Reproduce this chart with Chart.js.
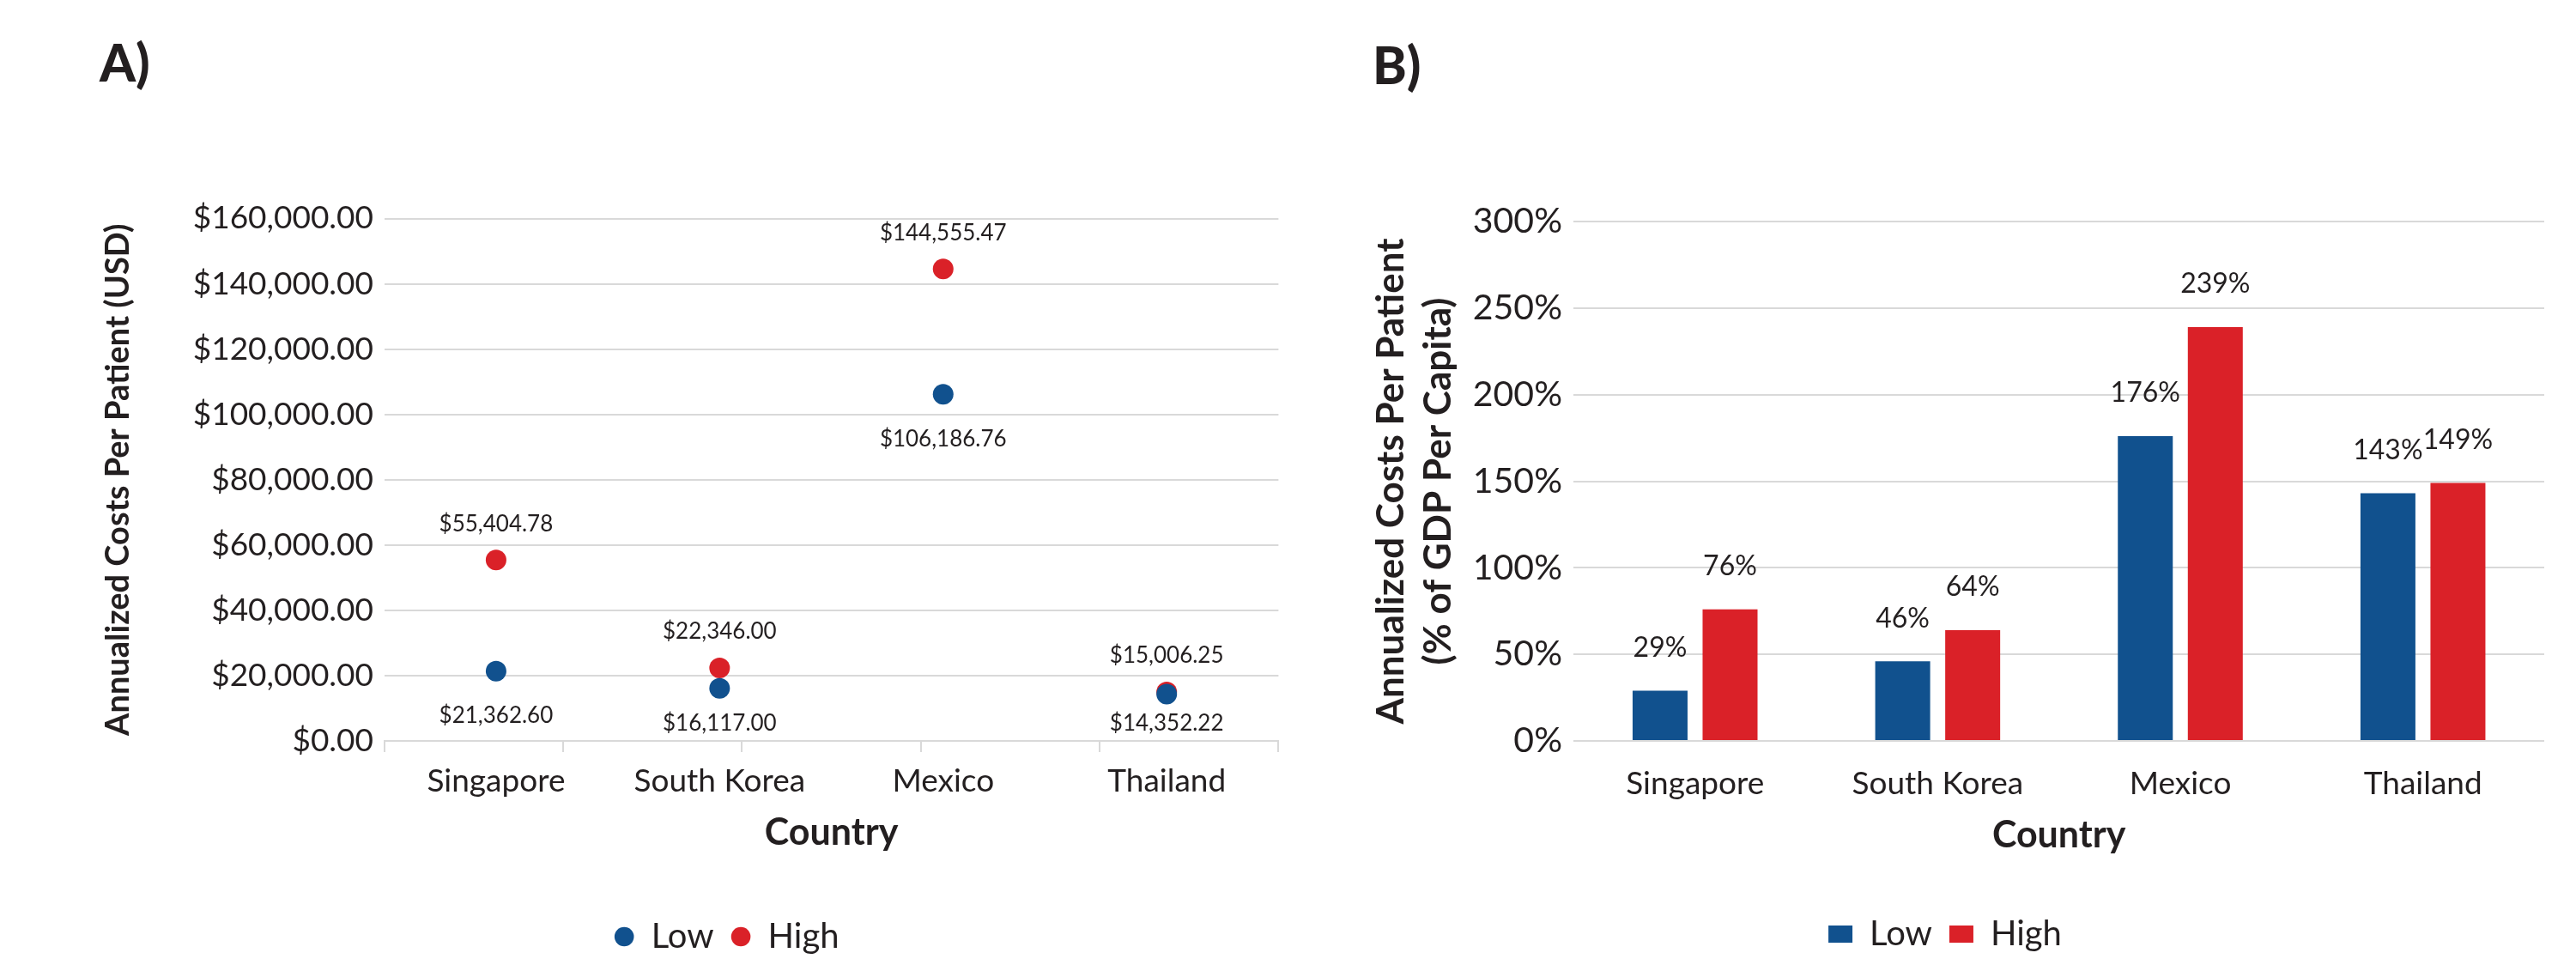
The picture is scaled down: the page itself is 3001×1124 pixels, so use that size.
<!DOCTYPE html>
<html>
<head>
<meta charset="utf-8">
<script src="https://cdn.jsdelivr.net/npm/chart.js@4.4.1/dist/chart.umd.min.js"></script>
<style>
  html, body { margin: 0; padding: 0; background: #fff; }
  body { width: 3001px; height: 1124px; position: relative; overflow: hidden; }
  .panel { position: absolute; font-family: Lato, sans-serif; font-weight: 900; font-size: 60px; line-height: 60px; color: #231f20; }
  #wrapA { position: absolute; left: 0; top: 0; width: 1600px; height: 1124px; }
  #wrapB { position: absolute; left: 1540px; top: 0; width: 1461px; height: 1124px; }
</style>
</head>
<body>
<div class="panel" style="left:116px; top:42px;">A)</div>
<div class="panel" style="left:1599px; top:45px;">B)</div>
<div id="wrapA"><canvas id="chartA"></canvas></div>
<div id="wrapB"><canvas id="chartB"></canvas></div>
<script>
// data
const countries = ['Singapore', 'South Korea', 'Mexico', 'Thailand'];
const costLow = [21362.60, 16117.00, 106186.76, 14352.22];
const costHigh = [55404.78, 22346.00, 144555.47, 15006.25];
const gdpLow = [29, 46, 176, 143];
const gdpHigh = [76, 64, 239, 149];
const costAxis = [0, 160000, 20000];   // min, max, step
const gdpAxis = [0, 300, 50];
const slotTicks = [0, 5, 1];            // tick marks under panel A

const BLUE = '#11518E';
const RED = '#DA2128';
const TEXT = '#231F20';
const GRID = '#D9D9D9';
const FONT = 'Lato';

Chart.defaults.font.family = FONT;
Chart.defaults.color = TEXT;
Chart.defaults.animation = false;

function money(v) {
    return '$' + v.toLocaleString('en-US', { minimumFractionDigits: 2, maximumFractionDigits: 2 });
}

// value labels over / under the points of panel A
const pointLabels = {
    id: 'pointLabels',
    afterDatasetsDraw(chart) {
        const ctx = chart.ctx;
        ctx.save();
        ctx.font = '26px ' + FONT;
        ctx.fillStyle = TEXT;
        ctx.textAlign = 'center';
        ctx.textBaseline = 'middle';
        chart.data.datasets.forEach((ds, i) => {
            chart.getDatasetMeta(i).data.forEach((pt, j) => {
                let y;
                if (ds.label === 'High') {
                    y = pt.y - 42;
                } else {
                    y = Math.min(pt.y + 52, chart.chartArea.bottom - 20);
                }
                ctx.fillText(money(ds.data[j]), pt.x, y);
            });
        });
        ctx.restore();
    }
};

// percentage labels above the bars of panel B
const barLabels = {
    id: 'barLabels',
    afterDatasetsDraw(chart) {
        const ctx = chart.ctx;
        ctx.save();
        ctx.font = '32px ' + FONT;
        ctx.fillStyle = TEXT;
        ctx.textAlign = 'center';
        ctx.textBaseline = 'middle';
        chart.data.datasets.forEach((ds, i) => {
            chart.getDatasetMeta(i).data.forEach((bar, j) => {
                ctx.fillText(ds.data[j] + '%', bar.x, bar.y - 50);
            });
        });
        ctx.restore();
    }
};

function drawCostChart() {
    const ctx = document.getElementById('chartA').getContext('2d');
    new Chart(ctx, {
        type: 'line',
        data: {
            labels: countries,
            datasets: [{
                label: 'Low',
                data: costLow,
                showLine: false,
                backgroundColor: BLUE,
                borderColor: BLUE,
                pointRadius: 12,
                pointBorderWidth: 0,
                pointStyle: 'circle'
            }, {
                label: 'High',
                data: costHigh,
                showLine: false,
                backgroundColor: RED,
                borderColor: RED,
                pointRadius: 12,
                pointBorderWidth: 0,
                pointStyle: 'circle'
            }]
        },
        options: {
            responsive: true,
            maintainAspectRatio: false,
            layout: { padding: { top: 254.5, left: 100, right: 6.8, bottom: 3 } },
            plugins: {
                tooltip: { enabled: false },
                legend: {
                    position: 'bottom',
                    labels: {
                        usePointStyle: true,
                        pointStyle: 'circle',
                        boxWidth: 23,
                        boxHeight: 16,
                        padding: 20,
                        color: TEXT,
                        font: { size: 40 }
                    }
                }
            },
            scales: {
                x: {
                    type: 'category',
                    offset: true,
                    weight: 1,
                    afterFit(scale) { scale.height = 175; },
                    grid: { display: false, drawTicks: false },
                    border: { display: false },
                    ticks: { font: { size: 37 }, padding: 11.4, color: TEXT },
                    title: {
                        display: true,
                        text: 'Country',
                        color: TEXT,
                        font: { size: 43, weight: 'bold' },
                        padding: { top: 0, bottom: 55.4 }
                    }
                },
                slots: {
                    type: 'linear',
                    position: 'bottom',
                    axis: 'x',
                    weight: 0,
                    min: slotTicks[0],
                    max: slotTicks[1],
                    ticks: { stepSize: slotTicks[2], display: false },
                    grid: { drawOnChartArea: false, drawTicks: true, tickLength: 13, color: GRID, lineWidth: 2 },
                    border: { display: true, color: GRID, width: 2 }
                },
                y: {
                    min: costAxis[0],
                    max: costAxis[1],
                    afterFit(scale) { scale.width = 347.7; },
                    ticks: {
                        stepSize: costAxis[2],
                        padding: 12.7,
                        color: TEXT,
                        font: { size: 37 },
                        callback: v => money(v)
                    },
                    grid: { color: GRID, lineWidth: 2, drawTicks: false },
                    border: { display: false },
                    title: {
                        display: true,
                        text: 'Annualized Costs Per Patient (USD)',
                        color: TEXT,
                        font: { size: 38, weight: 'bold' },
                        padding: { top: 15.2, bottom: 0 }
                    }
                },
                spacer: {
                    type: 'linear',
                    position: 'right',
                    axis: 'y',
                    afterFit(scale) { scale.width = 103.8; },
                    grid: { display: false },
                    ticks: { display: false },
                    border: { display: false }
                }
            }
        },
        plugins: [pointLabels]
    });
}

function drawGdpChart() {
    const ctx = document.getElementById('chartB').getContext('2d');
    new Chart(ctx, {
        type: 'bar',
        data: {
            labels: countries,
            datasets: [{
                label: 'Low',
                data: gdpLow,
                backgroundColor: BLUE,
                borderWidth: 0,
                categoryPercentage: 0.577,
                barPercentage: 0.785
            }, {
                label: 'High',
                data: gdpHigh,
                backgroundColor: RED,
                borderWidth: 0,
                categoryPercentage: 0.577,
                barPercentage: 0.785
            }]
        },
        options: {
            responsive: true,
            maintainAspectRatio: false,
            layout: { padding: { top: 258, left: 28, right: 37, bottom: 6 } },
            plugins: {
                tooltip: { enabled: false },
                legend: {
                    position: 'bottom',
                    labels: {
                        boxWidth: 28,
                        boxHeight: 20,
                        padding: 20,
                        color: TEXT,
                        font: { size: 40 }
                    }
                }
            },
            scales: {
                x: {
                    afterFit(scale) { scale.height = 185; },
                    grid: { display: false, drawTicks: false },
                    border: { display: false },
                    ticks: { font: { size: 37 }, padding: 27.4, color: TEXT },
                    title: {
                        display: true,
                        text: 'Country',
                        color: TEXT,
                        font: { size: 43, weight: 'bold' },
                        padding: { top: 0, bottom: 49.4 }
                    }
                },
                y: {
                    min: gdpAxis[0],
                    max: gdpAxis[1],
                    afterFit(scale) { scale.width = 265.4; },
                    ticks: {
                        stepSize: gdpAxis[2],
                        padding: 13.4,
                        color: TEXT,
                        font: { size: 41 },
                        callback: v => v + '%'
                    },
                    grid: { color: GRID, lineWidth: 2, drawTicks: false },
                    border: { display: false },
                    title: {
                        display: true,
                        text: ['Annualized Costs Per Patient', '(% of GDP Per Capita)'],
                        color: TEXT,
                        font: { size: 44, weight: 'bold', lineHeight: 1.26 },
                        padding: { top: 25, bottom: 0 }
                    }
                }
            }
        },
        plugins: [barLabels]
    });
}

Promise.all([
    document.fonts.load('40px Lato'),
    document.fonts.load('bold 40px Lato'),
    document.fonts.load('900 60px Lato')
]).catch(() => {}).then(() => {
    drawCostChart();
    drawGdpChart();
});
</script>
</body>
</html>
